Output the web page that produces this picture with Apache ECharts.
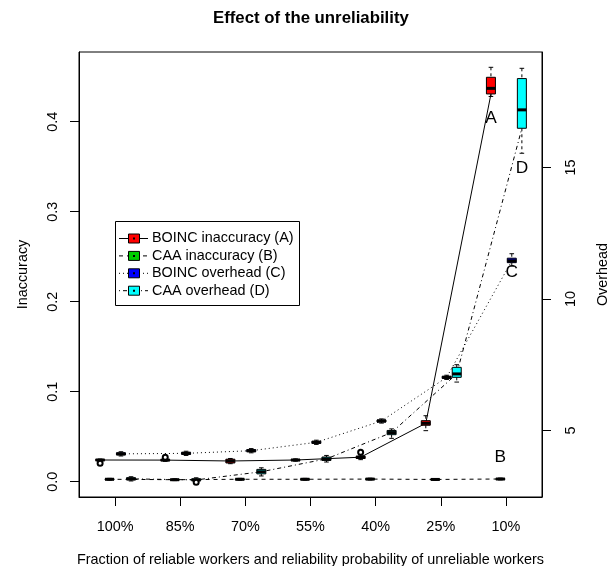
<!DOCTYPE html>
<html><head><meta charset="utf-8">
<script src="https://cdn.jsdelivr.net/npm/echarts@6/dist/echarts.min.js"></script>
<style>html,body{margin:0;padding:0;background:#fff}#c{width:609px;height:566px}</style>
</head><body><div id="c"></div><script>
// ---------- data ----------
const categories = ['100%', '85%', '70%', '55%', '40%', '25%', '10%'];
const inaccuracyTicks = [0, 0.1, 0.2, 0.3, 0.4];
const overheadTicks = [5, 10, 15];

// box summaries per category: [low whisker, Q1, median, Q3, high whisker]
const boincInaccuracy = [
  [0.0228, 0.0236, 0.0241, 0.0247, 0.0252],
  [0.0226, 0.0234, 0.0240, 0.0246, 0.0254],
  [0.0200, 0.0208, 0.0230, 0.0250, 0.0258],
  [0.0228, 0.0234, 0.0241, 0.0247, 0.0254],
  [0.0245, 0.0258, 0.0272, 0.0283, 0.0295],
  [0.0567, 0.0627, 0.0649, 0.0678, 0.0733],
  [0.4280, 0.4308, 0.4370, 0.4493, 0.4604]
];
const caaInaccuracy = [
  [0.0017, 0.0022, 0.0027, 0.0032, 0.0037],
  [0.0012, 0.0017, 0.0022, 0.0027, 0.0032],
  [0.0017, 0.0022, 0.0027, 0.0032, 0.0037],
  [0.0017, 0.0022, 0.0027, 0.0032, 0.0037],
  [0.0019, 0.0024, 0.0029, 0.0034, 0.0039],
  [0.0015, 0.0020, 0.0025, 0.0030, 0.0035],
  [0.0020, 0.0025, 0.0030, 0.0035, 0.0040]
];
const boincOverhead = [
  [4.03, 4.07, 4.11, 4.15, 4.19],
  [4.05, 4.09, 4.13, 4.17, 4.21],
  [4.15, 4.19, 4.23, 4.27, 4.31],
  [4.47, 4.51, 4.55, 4.59, 4.63],
  [5.28, 5.32, 5.36, 5.40, 5.44],
  [6.94, 6.98, 7.02, 7.06, 7.10],
  [11.25, 11.38, 11.45, 11.55, 11.72]
];
const caaOverhead = [
  [3.08, 3.12, 3.16, 3.20, 3.24],
  [3.06, 3.09, 3.12, 3.16, 3.20],
  [3.27, 3.35, 3.43, 3.52, 3.58],
  [3.80, 3.86, 3.92, 3.99, 4.05],
  [4.70, 4.84, 4.92, 5.00, 5.06],
  [6.84, 7.02, 7.15, 7.40, 7.50],
  [15.54, 16.49, 17.19, 18.38, 18.77]
];
// values joined by the connecting lines
const boincInaccuracyLine = [0.0241, 0.0240, 0.0230, 0.0241, 0.0272, 0.0649, 0.4305];
const caaInaccuracyLine = [0.0027, 0.0022, 0.0027, 0.0027, 0.0029, 0.0025, 0.0030];
const boincOverheadLine = [4.11, 4.13, 4.23, 4.55, 5.36, 7.02, 11.45];
const caaOverheadLine = [3.16, 3.12, 3.43, 3.92, 4.92, 7.15, 16.49];
// outliers: [category index, value]
const boincInaccuracyOutliers = [[0, 0.0204], [1, 0.0273], [4, 0.0327]];
const caaOverheadOutliers = [[1, 3.03]];
// letter annotations: [category index, value]
const letterA = [6, 0.4043];
const letterB = [6, 0.0269];
const letterC = [6, 11.02];
const letterD = [6, 14.97];

// ---------- layout / style ----------
const FONT = 'Liberation Sans, Arial, Helvetica, sans-serif';
const offsets = { A: -0.23, B: -0.085, C: 0.09, D: 0.245 };
const colors = { A: '#FF0000', B: '#00CD00', C: '#0000FF', D: '#00FFFF' };
const dashes = { A: 'solid', B: [4, 4], C: [1, 3], D: [1, 3, 4, 3] };

function boxData(arr, off) {
  return arr.map((s, i) => [i + 1 + off].concat(s));
}
function lineData(arr, off) {
  return arr.map((v, i) => [i + 1 + off, v]);
}
function ptData(arr, off) {
  return arr.map(p => [p[0] + 1 + off, p[1]]);
}
function boxRender(color) {
  return function (params, api) {
    const x = api.value(0);
    const lo = api.coord([x, api.value(1)]);
    const q1 = api.coord([x, api.value(2)]);
    const md = api.coord([x, api.value(3)]);
    const q3 = api.coord([x, api.value(4)]);
    const hi = api.coord([x, api.value(5)]);
    const cx = lo[0], hw = 4.5, sw = 2.3;
    const ws = { stroke: '#000', lineWidth: 1, lineDash: [3, 3] };
    const ss = { stroke: '#000', lineWidth: 1 };
    return {
      type: 'group', children: [
        { type: 'line', shape: { x1: cx, y1: hi[1], x2: cx, y2: q3[1] }, style: ws },
        { type: 'line', shape: { x1: cx, y1: q1[1], x2: cx, y2: lo[1] }, style: ws },
        { type: 'line', shape: { x1: cx - sw, y1: hi[1], x2: cx + sw, y2: hi[1] }, style: ss },
        { type: 'line', shape: { x1: cx - sw, y1: lo[1], x2: cx + sw, y2: lo[1] }, style: ss },
        { type: 'rect', shape: { x: cx - hw, y: q3[1], width: 2 * hw, height: Math.max(q1[1] - q3[1], 1) },
          style: { fill: color, stroke: '#000', lineWidth: 1 } },
        { type: 'line', shape: { x1: cx - hw, y1: md[1], x2: cx + hw, y2: md[1] },
          style: { stroke: '#000', lineWidth: 3 } }
      ]
    };
  };
}
function boxSeries(name, arr, key, yIdx) {
  return {
    name: name, type: 'custom', xAxisIndex: 0, yAxisIndex: yIdx, z: 5,
    renderItem: boxRender(colors[key]),
    encode: { x: 0, y: [1, 2, 3, 4, 5] },
    data: boxData(arr, offsets[key])
  };
}
function lineSeries(name, arr, key, yIdx) {
  return {
    name: name + ' line', type: 'line', yAxisIndex: yIdx, z: 2,
    showSymbol: false, symbol: 'none', silent: true,
    lineStyle: { color: '#000', width: 1, type: dashes[key] },
    data: lineData(arr, offsets[key])
  };
}
function letterSeries(items, yIdx) {
  return {
    type: 'scatter', yAxisIndex: yIdx, symbolSize: 0, z: 6, silent: true,
    itemStyle: { opacity: 1, color: '#000' },
    label: { show: true, position: 'inside', formatter: p => p.name, opacity: 1,
      fontSize: 17.3, color: '#000', fontFamily: FONT },
    data: items
  };
}

const chart = echarts.init(document.getElementById('c'), null, { renderer: 'canvas' });

const legendRows = [
  { text: 'BOINC inaccuracy (A)', key: 'A' },
  { text: 'CAA inaccuracy (B)', key: 'B' },
  { text: 'BOINC overhead (C)', key: 'C' },
  { text: 'CAA overhead (D)', key: 'D' }
];
const legendEls = [{
  type: 'rect', shape: { x: 115.5, y: 221.5, width: 184, height: 84 },
  style: { fill: '#fff', stroke: '#000', lineWidth: 1 }, z: 10
}];
legendRows.forEach((r, i) => {
  const y = 238.5 + 17.4 * i;
  legendEls.push({ type: 'line', shape: { x1: 119, y1: y, x2: 148, y2: y },
    style: { stroke: '#000', lineWidth: 1, lineDash: dashes[r.key] === 'solid' ? null : dashes[r.key] }, z: 11 });
  legendEls.push({ type: 'rect', shape: { x: 128.5, y: y - 4.5, width: 11, height: 9 },
    style: { fill: colors[r.key], stroke: '#000', lineWidth: 1 }, z: 12 });
  legendEls.push({ type: 'rect', shape: { x: 133, y: y - 1, width: 2, height: 2 },
    style: { fill: '#000' }, z: 13 });
  legendEls.push({ type: 'text', x: 152, y: y,
    style: { text: r.text, fill: '#000', font: '14.4px ' + FONT, textVerticalAlign: 'middle' }, z: 13 });
});

chart.setOption({
  animation: false,
  backgroundColor: '#fff',
  title: {
    text: 'Effect of the unreliability', left: 208, top: 5,
    textStyle: { fontSize: 16.8, fontWeight: 'bold', color: '#000', fontFamily: FONT }
  },
  grid: { left: 79, right: 67, top: 52, bottom: 69, show: true, borderColor: '#000', borderWidth: 1,
    containLabel: false, outerBoundsMode: 'none' },
  xAxis: {
    type: 'value', min: 0.446, max: 7.554,
    name: 'Fraction of reliable workers and reliability probability of unreliable workers',
    nameLocation: 'middle', nameGap: 56,
    nameTextStyle: { fontSize: 14.4, color: '#000', fontFamily: FONT },
    axisLine: { show: true, onZero: false, lineStyle: { color: '#000' } },
    axisTick: { show: true, length: 9, customValues: [1, 2, 3, 4, 5, 6, 7], lineStyle: { color: '#000' } },
    axisLabel: { customValues: [1, 2, 3, 4, 5, 6, 7], margin: 23,
      formatter: v => categories[Math.round(v) - 1] || '',
      fontSize: 14.4, color: '#000', fontFamily: FONT },
    splitLine: { show: false }
  },
  yAxis: [{
    type: 'value', min: -0.017, max: 0.4774, position: 'left',
    name: 'Inaccuracy', nameLocation: 'middle', nameGap: 49, nameRotate: 90,
    nameTextStyle: { fontSize: 14.4, color: '#000', fontFamily: FONT },
    axisLine: { show: true, onZero: false, lineStyle: { color: '#000' } },
    axisTick: { show: true, length: 9, customValues: inaccuracyTicks, lineStyle: { color: '#000' } },
    axisLabel: { customValues: inaccuracyTicks, rotate: 90, margin: 19,
      formatter: v => v.toFixed(1), fontSize: 14.4, color: '#000', fontFamily: FONT },
    splitLine: { show: false }
  }, {
    type: 'value', min: 2.47, max: 19.39, position: 'right',
    name: 'Overhead', nameLocation: 'middle', nameGap: 54, nameRotate: 90,
    nameTextStyle: { fontSize: 14.4, color: '#000', fontFamily: FONT },
    axisLine: { show: true, onZero: false, lineStyle: { color: '#000' } },
    axisTick: { show: true, length: 9, customValues: overheadTicks, lineStyle: { color: '#000' } },
    axisLabel: { customValues: overheadTicks, rotate: 90, margin: 22,
      formatter: v => String(v), fontSize: 14.4, color: '#000', fontFamily: FONT },
    splitLine: { show: false }
  }],
  series: [
    lineSeries('BOINC inaccuracy (A)', boincInaccuracyLine, 'A', 0),
    lineSeries('CAA inaccuracy (B)', caaInaccuracyLine, 'B', 0),
    lineSeries('BOINC overhead (C)', boincOverheadLine, 'C', 1),
    lineSeries('CAA overhead (D)', caaOverheadLine, 'D', 1),
    boxSeries('BOINC inaccuracy (A)', boincInaccuracy, 'A', 0),
    boxSeries('CAA inaccuracy (B)', caaInaccuracy, 'B', 0),
    boxSeries('BOINC overhead (C)', boincOverhead, 'C', 1),
    boxSeries('CAA overhead (D)', caaOverhead, 'D', 1),
    { type: 'scatter', yAxisIndex: 0, symbol: 'emptyCircle', symbolSize: 5, z: 6, silent: true,
      itemStyle: { color: '#000', borderWidth: 1, opacity: 1 }, data: ptData(boincInaccuracyOutliers, offsets.A) },
    { type: 'scatter', yAxisIndex: 1, symbol: 'emptyCircle', symbolSize: 5, z: 6, silent: true,
      itemStyle: { color: '#000', borderWidth: 1, opacity: 1 }, data: ptData(caaOverheadOutliers, offsets.D) },
    letterSeries([
      { name: 'A', value: [letterA[0] + 1 + offsets.A, letterA[1]] },
      { name: 'B', value: [letterB[0] + 1 + offsets.B, letterB[1]] }
    ], 0),
    letterSeries([
      { name: 'C', value: [letterC[0] + 1 + offsets.C, letterC[1]] },
      { name: 'D', value: [letterD[0] + 1 + offsets.D, letterD[1]] }
    ], 1)
  ],
  graphic: legendEls
});
</script></body></html>
